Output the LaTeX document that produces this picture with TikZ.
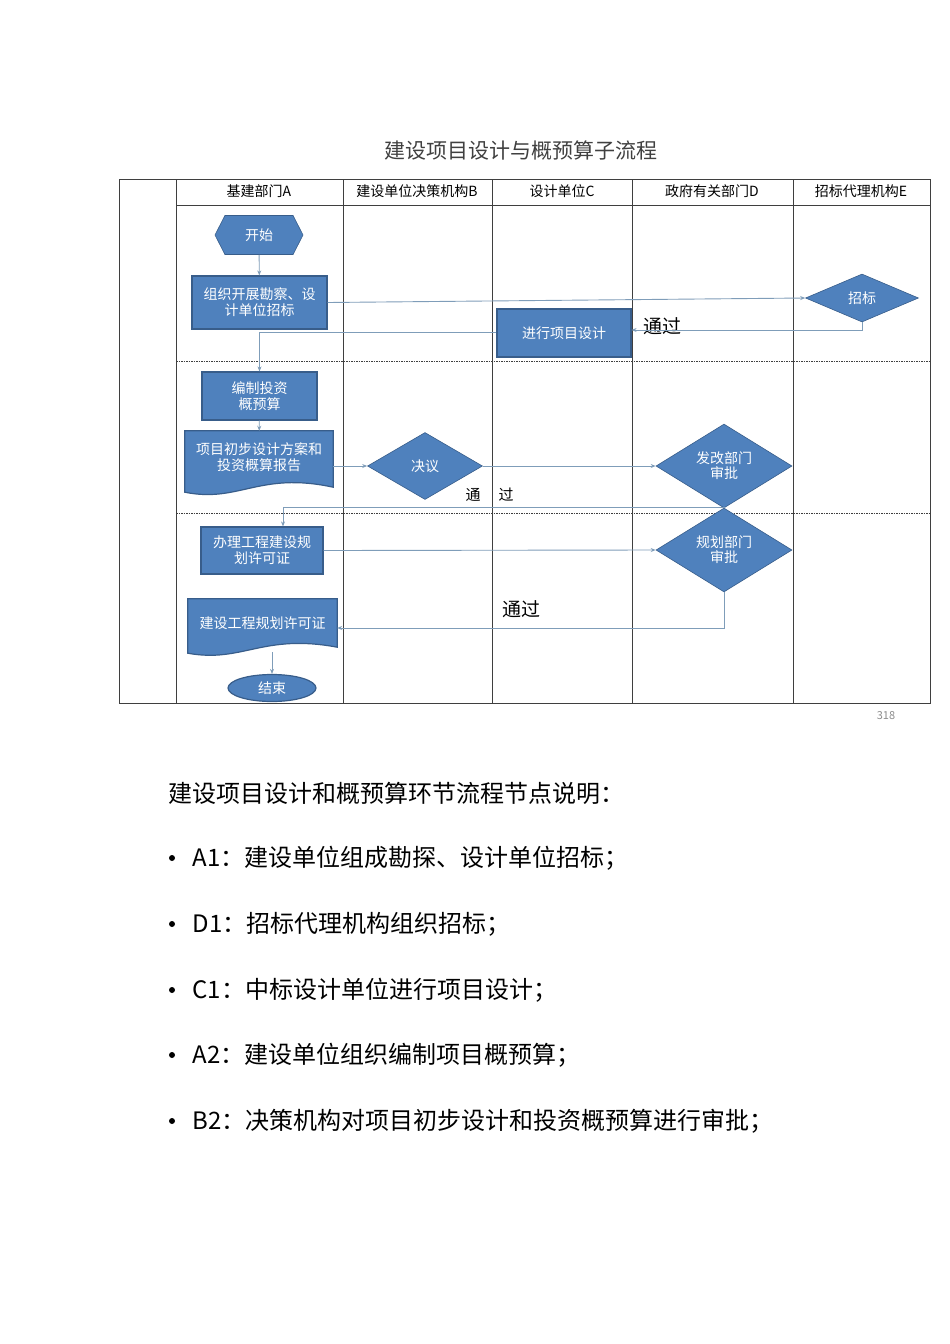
\documentclass[tikz,border=0pt]{standalone}
\usepackage{fontspec}
\setmainfont{Noto Sans CJK SC}
\usetikzlibrary{shapes.geometric,shapes.symbols,arrows.meta,calc}
\definecolor{bfill}{HTML}{4F81BD}
\definecolor{bdraw}{HTML}{385D8A}
\definecolor{conn}{HTML}{7F9DB9}
\definecolor{grid}{HTML}{3F3F3F}
\begin{document}
\begin{tikzpicture}[x=1pt,y=-1pt,
  box/.style={rectangle,fill=bfill,draw=bdraw,line width=1.2pt,text=white,font=\fontsize{14}{16}\selectfont,align=center,inner sep=0},
  dia/.style={diamond,fill=bfill,draw=bdraw,line width=0.6pt,text=white,font=\fontsize{14}{15}\selectfont,align=center,inner sep=0},
  doc/.style={rectangle,text=white,font=\fontsize{14}{16}\selectfont,align=center,inner sep=0},
  docshape/.style={fill=bfill,draw=bdraw,line width=1.2pt},
  cn/.style={draw=conn,line width=0.9pt,-{Stealth[length=5pt,width=4pt]}},
  gl/.style={draw=grid,line width=0.9pt},
  dl/.style={draw=grid,line width=0.9pt,dash pattern=on 1.5pt off 1pt},
  hd/.style={font=\fontsize{14}{16}\selectfont},
  bl/.style={font=\fontsize{24}{28}\selectfont,anchor=west}]
\useasboundingbox (0,0) rectangle (950,1344);
\node[font=\fontsize{21}{24}\selectfont,text=black!75] (title) at (521,150) {建设项目设计与概预算子流程};
% table
\draw[gl] (119,179) rectangle (930,703);
\draw[gl] (176,205) -- (930,205);
\foreach \x in {176,343,492,632,793} \draw[gl] (\x,179) -- (\x,703);
\draw[dl] (176,361) -- (930,361);
\draw[dl] (176,513) -- (930,513);
\node[hd] (hA) at (259,191) {基建部门A};
\node[hd] (hB) at (417,191) {建设单位决策机构B};
\node[hd] (hC) at (562,191) {设计单位C};
\node[hd] (hD) at (712,191) {政府有关部门D};
\node[hd] (hE) at (861,191) {招标代理机构E};
% nodes
\node[signal,signal to=east and west,signal pointer angle=126,fill=bfill,draw=bdraw,line width=0.6pt,text=white,font=\fontsize{14}{16}\selectfont,minimum width=88pt,minimum height=39pt,inner sep=0] (start) at (259,235) {开始};
\node[box,minimum width=135pt,minimum height=53pt] (org) at (259.5,302.5) {组织开展勘察、设\\计单位招标};
\node[dia,minimum width=113pt,minimum height=48pt] (bid) at (862,298) {招标};
\node[box,minimum width=134pt,minimum height=48pt] (design) at (564,333) {进行项目设计};
\node[font=\fontsize{19}{20}\selectfont] (pass1) at (662,326) {通过};
\node[box,minimum width=115pt,minimum height=48pt] (budget) at (259.5,396) {编制投资\\概预算};
\node[doc,minimum width=148pt,minimum height=52pt] (rep) at (259,457) {项目初步设计方案和\\投资概算报告};
\draw[docshape] (rep.north west) -- (rep.north east) -- ($(rep.south east)+(0,4)$) .. controls ($(rep.south)+(0,-12)$) and ($(rep.south)+(-20,20)$) .. ($(rep.south west)+(0,9)$) -- cycle;
\node[doc] at (rep) {项目初步设计方案和\\投资概算报告};
\node[dia,minimum width=115pt,minimum height=67pt] (dec) at (425,466) {决议};
\node[dia,minimum width=136pt,minimum height=48pt] (fg) at (724,466) {发改部门\\审批};
\node[font=\fontsize{15}{16}\selectfont] (t1) at (473,495) {通};
\node[font=\fontsize{15}{16}\selectfont] (t2) at (506,495) {过};
\node[box,minimum width=122pt,minimum height=47pt] (apply) at (262,550.5) {办理工程建设规\\划许可证};
\node[dia,minimum width=136pt,minimum height=54pt] (gh) at (724,550) {规划部门\\审批};
\node[doc,minimum width=149pt,minimum height=44pt] (perm) at (262.5,623) {建设工程规划许可证};
\draw[docshape] ($(perm.north west)+(0,-2)$) -- ($(perm.north east)+(0,-2)$) -- ($(perm.south east)+(0,2)$) .. controls ($(perm.south)+(0,-12)$) and ($(perm.south)+(-20,18)$) .. ($(perm.south west)+(0,8)$) -- cycle;
\node[doc] at (perm) {建设工程规划许可证};
\node[ellipse,fill=bfill,draw=bdraw,line width=1.2pt,text=white,font=\fontsize{14}{16}\selectfont,minimum width=88pt,minimum height=27pt,inner sep=0] (end) at (272,688) {结束};
\node[font=\fontsize{19}{20}\selectfont] (pass2) at (521,609) {通过};
\node[font=\fontsize{11}{12}\selectfont,text=black!45] (pg) at (886,716) {318};
% connectors
\draw[cn] (start) -- (org);
\draw[cn] (org.east) -- (bid.west);
\coordinate (c1) at (862,330);
\draw[cn] (bid.south) -- (c1) -- (design.east |- c1);
\coordinate (c2) at (259.5,332);
\draw[cn] (design.west |- c2) -- (c2) -- (budget.north);
\draw[cn] (budget) -- (rep);
\draw[cn] (rep.east |- dec) -- (dec.west);
\draw[cn] (dec.east) -- (fg.west);
\coordinate (c3) at (724,507);
\coordinate (c4) at (283,507);
\draw[cn] (fg.south) -- (c3) -- (c4) -- (c4 |- apply.north);
\draw[cn] (apply.east) -- (gh.west);
\coordinate (c5) at (724,628);
\draw[cn] (gh.south) -- (c5) -- (perm.east |- c5);
\draw[cn] (272,652) -- (end.north);
% notes
\node[bl] (n0) at (165,793) {建设项目设计和概预算环节流程节点说明：};
\foreach \y/\t [count=\i] in {858/{A1：建设单位组成勘探、设计单位招标；},924/{D1：招标代理机构组织招标；},990/{C1：中标设计单位进行项目设计；},1055/{A2：建设单位组织编制项目概预算；},1121/{B2：决策机构对项目初步设计和投资概预算进行审批；}}{
  \fill (172,\y) circle (3pt);
  \node[bl] (b\i) at (189,\y) {\t};
}
\end{tikzpicture}
\end{document}
